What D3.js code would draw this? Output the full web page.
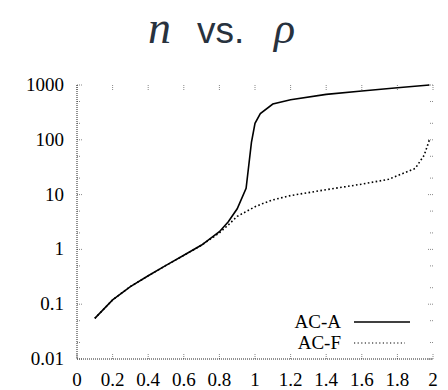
<!DOCTYPE html>
<html>
<head>
<meta charset="utf-8">
<script src="https://cdn.jsdelivr.net/npm/d3@7"></script>
</head>
<body style="margin:0">
<svg width="448" height="390"></svg>
<script>
// values
var rhoA = [0.1, 0.2, 0.3, 0.4, 0.5, 0.6, 0.7, 0.8, 0.85, 0.9, 0.95, 0.98, 1.0, 1.03, 1.1, 1.2, 1.4, 1.6, 1.8, 1.98];
var acA  = [0.055, 0.12, 0.21, 0.33, 0.51, 0.78, 1.2, 2.1, 3.2, 5.5, 13, 90, 200, 300, 450, 540, 675, 775, 890, 1000];

var rhoF = [0.1, 0.2, 0.3, 0.4, 0.5, 0.6, 0.7, 0.8, 0.85, 0.9, 1.0, 1.05, 1.1, 1.2, 1.4, 1.6, 1.75, 1.9, 1.95, 1.98];
var acF  = [0.055, 0.12, 0.21, 0.33, 0.51, 0.78, 1.2, 2.0, 2.8, 4.0, 6.0, 7.0, 8.0, 9.6, 12.3, 15.5, 19, 30, 52, 100];

var xTicks = [0, 0.2, 0.4, 0.6, 0.8, 1, 1.2, 1.4, 1.6, 1.8, 2];
var yTicks = [0.01, 0.1, 1, 10, 100, 1000];
var yMinor = [0.02, 0.05, 0.2, 0.5, 2, 5, 20, 50, 200, 500];
var seriesNames = ["AC-A", "AC-F"];

var serif = "Liberation Serif";

var svg = d3.select("svg"),
    margin = {left: 77, top: 85, right: 15, bottom: 31},
    width = +svg.attr("width") - margin.left - margin.right,
    height = +svg.attr("height") - margin.top - margin.bottom;

var x = d3.scaleLinear().domain([0, 2]).range([0, width]),
    y = d3.scaleLog().domain([0.01, 1000]).range([height, 0]);

// title: n vs. rho (math italic + plain sans)
var title = svg.append("g").attr("fill", "#28323e");
title.append("text")
    .attr("x", 148).attr("y", 43)
    .attr("font-family", serif)
    .attr("font-style", "italic")
    .attr("font-size", 46)
    .text("n");
title.append("text")
    .attr("x", 197).attr("y", 43)
    .attr("font-family", "Liberation Sans")
    .attr("font-size", 37)
    .text("vs.");
title.append("text")
    .attr("x", 274).attr("y", 43)
    .attr("font-family", serif)
    .attr("font-style", "italic")
    .attr("font-size", 44)
    .text("\u03c1");

var g = svg.append("g")
    .attr("transform", "translate(" + margin.left + "," + margin.top + ")");

// tick marks on all four sides
function tickMarks(vals, len, horiz) {
    vals.forEach(function(v) {
        if (horiz) {
            g.append("line").attr("x1", x(v)).attr("x2", x(v)).attr("y1", height).attr("y2", height - len);
            g.append("line").attr("x1", x(v)).attr("x2", x(v)).attr("y1", 0).attr("y2", len);
        } else {
            g.append("line").attr("x1", 0).attr("x2", len).attr("y1", y(v)).attr("y2", y(v));
            g.append("line").attr("x1", width).attr("x2", width - len).attr("y1", y(v)).attr("y2", y(v));
        }
    });
}
tickMarks(xTicks, 5, true);
tickMarks(yTicks, 5, false);
tickMarks(yMinor, 3, false);
g.selectAll("line")
    .attr("stroke", "#888")
    .attr("stroke-width", 1)
    .attr("stroke-dasharray", "1,1");

// left and bottom axis lines, dotted
g.append("line")
    .attr("x1", 0).attr("x2", 0).attr("y1", 0).attr("y2", height)
    .attr("stroke", "#222").attr("stroke-dasharray", "1,1");
g.append("line")
    .attr("x1", 0).attr("x2", width).attr("y1", height).attr("y2", height)
    .attr("stroke", "#222").attr("stroke-dasharray", "1,1");

// tick labels
g.selectAll(".xlab")
    .data(xTicks)
    .enter().append("text")
    .attr("class", "xlab")
    .attr("x", function(d) { return x(d); })
    .attr("y", height + 27)
    .attr("text-anchor", "middle")
    .attr("font-family", serif)
    .attr("font-size", 19)
    .text(function(d) { return d; });

g.selectAll(".ylab")
    .data(yTicks)
    .enter().append("text")
    .attr("class", "ylab")
    .attr("x", -13)
    .attr("y", function(d) { return y(d) + 6; })
    .attr("text-anchor", "end")
    .attr("font-family", serif)
    .attr("font-size", 19)
    .text(function(d) { return d; });

// curves
var line = d3.line()
    .x(function(d) { return x(d[0]); })
    .y(function(d) { return y(d[1]); });

g.append("path")
    .datum(d3.zip(rhoF, acF))
    .attr("d", line)
    .attr("fill", "none")
    .attr("stroke", "#000")
    .attr("stroke-width", 1.6)
    .attr("stroke-dasharray", "1.6,2.4");

g.append("path")
    .datum(d3.zip(rhoA, acA))
    .attr("d", line)
    .attr("fill", "none")
    .attr("stroke", "#000")
    .attr("stroke-width", 1.6);

// legend
var legend = svg.append("g");
seriesNames.forEach(function(name, i) {
    var ly = 322 + i * 21;
    legend.append("text")
        .attr("x", 341)
        .attr("y", ly + 6)
        .attr("text-anchor", "end")
        .attr("font-family", serif)
        .attr("font-size", 19)
        .text(name);
    legend.append("line")
        .attr("x1", 354).attr("x2", i == 0 ? 410 : 405)
        .attr("y1", ly).attr("y2", ly)
        .attr("stroke", "#000")
        .attr("stroke-width", i == 0 ? 1.6 : 1.2)
        .attr("stroke-dasharray", i == 0 ? null : "1.2,2.4");
});
</script>
</body>
</html>
